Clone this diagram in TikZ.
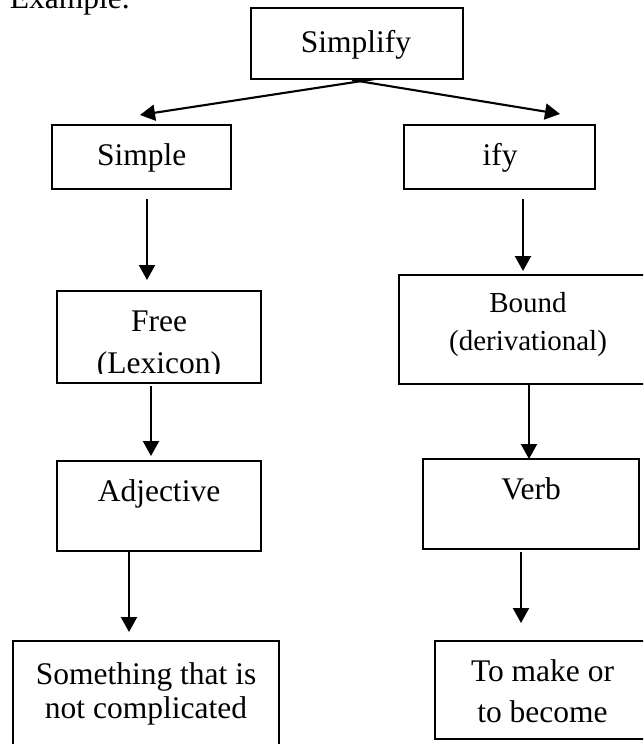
\documentclass[tikz,border=0pt]{standalone}
\usepackage{fontspec}
\setmainfont{Liberation Serif}
\usetikzlibrary{arrows.meta}
\begin{document}
\begin{tikzpicture}[x=1pt,y=-1pt,
  box/.style={draw, line width=1.5pt, inner sep=0pt, outer sep=0pt},
  txt/.style={inner sep=0pt, anchor=base, align=center,
              font=\fontsize{31.5}{42}\selectfont},
  arr/.style={line width=2.1pt, -{Triangle[length=15pt,width=16pt]}}
]
\useasboundingbox (0,0) rectangle (643,744);
\clip (0,0) rectangle (643,744);

% heading
\node[txt, anchor=base west] (ex) at (9.6,8.5) {Example.};

% boxes
\node[box, minimum width=212pt, minimum height=71pt]  (simplify)  at (357,43.5)  {};
\node[box, minimum width=179pt, minimum height=64pt]  (simple)    at (141.5,157) {};
\node[box, minimum width=191pt, minimum height=64pt]  (ify)       at (499.5,157) {};
\node[box, minimum width=204pt, minimum height=92pt]  (free)      at (159,337)   {};
\node[box, minimum width=258pt, minimum height=109pt] (bound)     at (528,329.5) {};
\node[box, minimum width=204pt, minimum height=90pt]  (adjective) at (159,506)   {};
\node[box, minimum width=216pt, minimum height=90pt]  (verb)      at (531,504)   {};
\node[box, minimum width=266pt, minimum height=110pt] (something) at (146,696)   {};
\node[box, minimum width=215pt, minimum height=98pt]  (tomake)    at (542.5,690) {};

% box texts (a multi-line node sits on the baseline of its last line)
\node[txt] (t-simplify)  at (356,52)    {Simplify};
\node[txt] (t-simple)    at (141.7,165) {Simple};
\node[txt] (t-ify)       at (500,165.5) {ify};
\begin{scope}
  \clip (57,291) rectangle (261,373.5);
  \node[txt] (t-free) at (159,373) {Free\\(Lexicon)};
\end{scope}
\node[txt, font=\fontsize{29}{38}\selectfont] (t-bound) at (528,350) {Bound\\(derivational)};
\node[txt] (t-adjective) at (159,501) {Adjective};
\node[txt] (t-verb)      at (531,499) {Verb};
\node[txt, font=\fontsize{31.5}{34}\selectfont] (t-something) at (146,718) {Something that is\\not complicated};
\node[txt, font=\fontsize{31.5}{41.5}\selectfont] (t-tomake) at (542.5,722.5) {To make or\\to become};

% connectors
\draw[arr] ([xshift=18pt]simplify.south) -- ([xshift=-1.5pt,yshift=10pt]simple.north);
\draw[arr] ([xshift=-5pt,yshift=-1pt]simplify.south) -- ([xshift=60.5pt,yshift=11pt]ify.north);

\coordinate (s1) at ([xshift=5.5pt]simple.south);
\draw[arr, shorten <=10pt, shorten >=11pt] (s1) -- (s1 |- free.north);
\coordinate (s2) at ([xshift=-8pt]free.south);
\draw[arr, shorten <=3pt, shorten >=5pt] (s2) -- (s2 |- adjective.north);
\coordinate (s3) at ([xshift=-30pt]adjective.south);
\draw[arr, shorten >=9pt] (s3) -- (s3 |- something.north);

\coordinate (s4) at ([xshift=23.5pt]ify.south);
\draw[arr, shorten <=10pt, shorten >=4pt] (s4) -- (s4 |- bound.north);
\coordinate (s5) at ([xshift=1pt]bound.south);
\draw[arr, shorten <=1pt] (s5) -- (s5 |- verb.north);
\coordinate (s6) at ([xshift=-10pt]verb.south);
\draw[arr, shorten <=3pt, shorten >=18pt] (s6) -- (s6 |- tomake.north);
\end{tikzpicture}
\end{document}
